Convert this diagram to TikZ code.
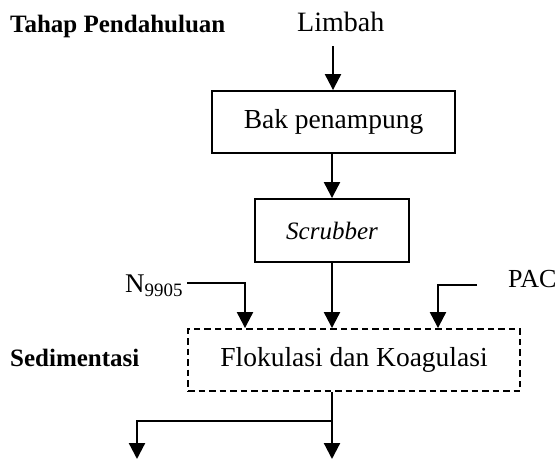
\documentclass[tikz,border=0pt]{standalone}
\usepackage{fontspec}
\setmainfont{Liberation Serif}
\usetikzlibrary{arrows.meta}
\begin{document}
\begin{tikzpicture}[x=1pt,y=-1pt,
  lbl/.style={inner sep=0pt,anchor=base west,font=\fontsize{27.5}{32}\selectfont},
  blbl/.style={inner sep=0pt,anchor=base west,font=\fontsize{25}{30}\selectfont\bfseries},
  boxstyle/.style={draw,line width=1.9pt,inner sep=0pt,font=\fontsize{27.5}{32}\selectfont},
  dbox/.style={boxstyle,dash pattern=on 6.5pt off 4pt},
  flow/.style={line width=2.2pt,-{Triangle[length=16pt,width=16pt]}},
  plain/.style={line width=2.2pt}]
\useasboundingbox (0,0) rectangle (560,459);
\node[blbl] (tahap) at (10,32) {Tahap Pendahuluan};
\node[lbl,font=\fontsize{28}{32}\selectfont] (limbah) at (297,31) {Limbah};
\node[boxstyle,minimum width=243pt,minimum height=62pt] (bak) at (333.5,122) {Bak penampung};
\node[boxstyle,minimum width=154pt,minimum height=63pt,font=\fontsize{25}{30}\selectfont\itshape] (scrub) at (332,230.5) {Scrubber};
\node[dbox,minimum width=332pt,minimum height=62pt] (flok) at (354,360) {Flokulasi dan Koagulasi};
\node[lbl,font=\fontsize{27}{32}\selectfont] (nlab) at (125,292) {N\textsubscript{9905}};
\node[lbl,font=\fontsize{26}{30}\selectfont] (pac) at (508,287) {PAC};
\node[blbl] (sed) at (10,366) {Sedimentasi};
\coordinate (limbout) at (333,46);
\coordinate (nstart) at (187,283);
\coordinate (ncorner) at (245,283);
\coordinate (pstart) at (477,285);
\coordinate (pcorner) at (438,285);
\coordinate (branch) at (332,421);
\coordinate (lcorner) at (137,421);
\coordinate (out1) at (137,459);
\coordinate (out2) at (332,459);
\draw[flow] (limbout) -- (limbout |- bak.north);
\draw[flow] (bak.south -| scrub.north) -- (scrub.north);
\draw[flow] (scrub.south) -- (scrub.south |- flok.north);
\draw[flow] (nstart) -- (ncorner) -- (ncorner |- flok.north);
\draw[flow] (pstart) -- (pcorner) -- (pcorner |- flok.north);
\draw[plain] (flok.south -| branch) -- (branch);
\draw[flow] (branch) -- (out2);
\draw[flow] (branch) -- (lcorner) -- (out1);
\end{tikzpicture}
\end{document}
